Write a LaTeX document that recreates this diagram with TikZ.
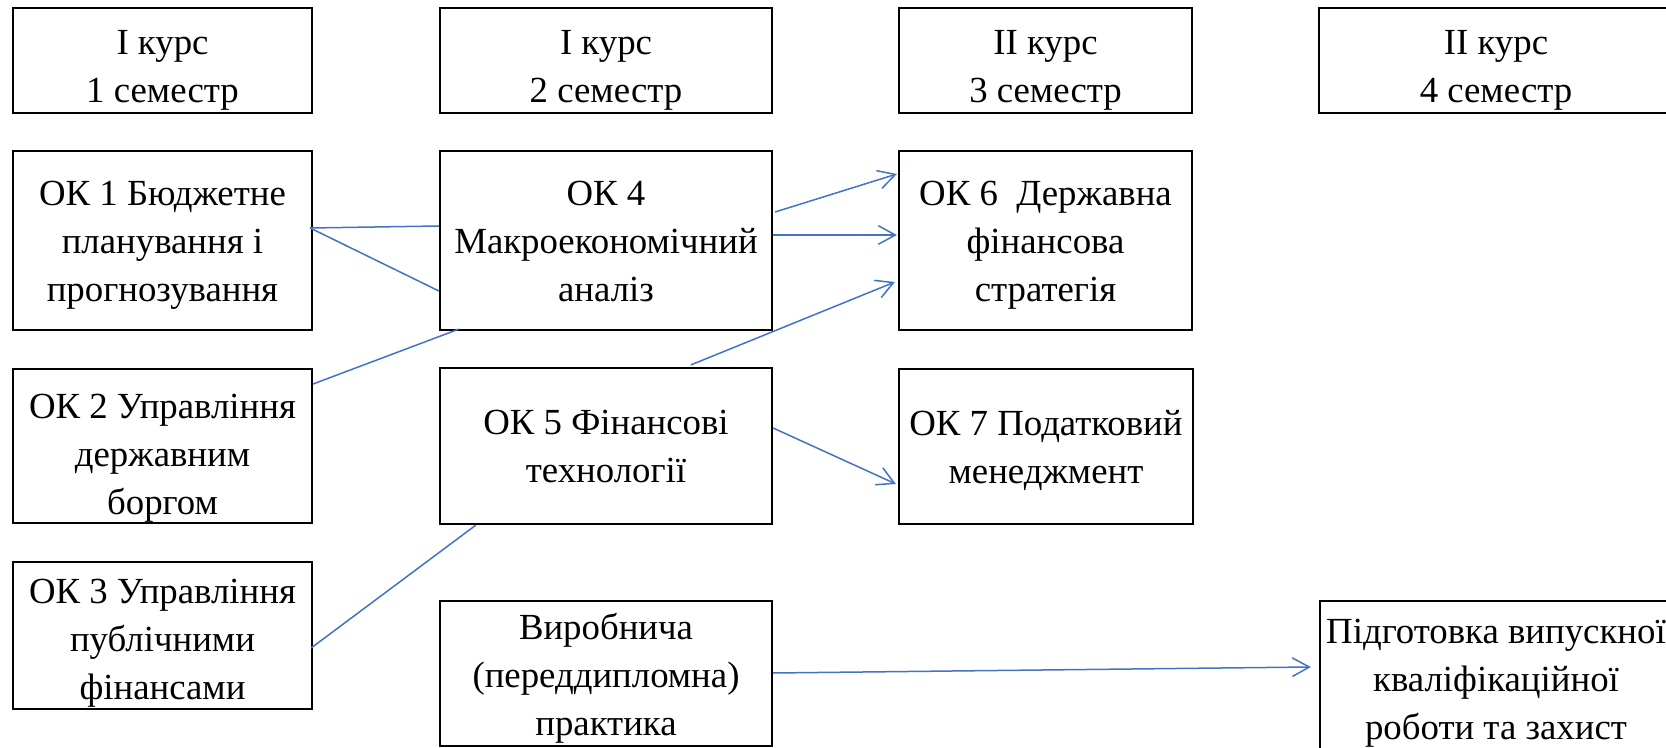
\documentclass[tikz,border=0pt]{standalone}
\usepackage{fontspec}
\setmainfont{Liberation Serif}
\usetikzlibrary{arrows.meta,calc}
\definecolor{lnblue}{RGB}{68,114,196}
\newcommand\boxtext[3]{\node[txt] at ($(#1.north)+(0,#2-31)$) {\strut #3};}
\begin{document}
\begin{tikzpicture}[x=0.5pt,y=-0.5pt,
  box/.style={draw=black,line width=1.1pt,rectangle,inner sep=0pt},
  txt/.style={font=\fontsize{18.4pt}{24pt}\selectfont,align=center,inner sep=0pt,anchor=north},
  link/.style={draw=lnblue,line width=0.75pt},
  arr/.style={link,-{Straight Barb[length=8.5pt,width=9.3pt]}}]
\clip (0,0) rectangle (1666,748);
\fill[white] (0,0) rectangle (1666,748);
% headers
\node[box,minimum width=149.5pt,minimum height=52.5pt] (h1) at (162.5,60.5) {};
\node[box,minimum width=166pt,minimum height=52.5pt] (h2) at (606,60.5) {};
\node[box,minimum width=146.5pt,minimum height=52.5pt] (h3) at (1045.5,60.5) {};
\node[box,minimum width=177pt,minimum height=52.5pt] (h4) at (1496,60.5) {};
% courses
\node[box,minimum width=149.5pt,minimum height=89.5pt] (ok1) at (162.5,240.5) {};
\node[box,minimum width=166pt,minimum height=89.5pt] (ok4) at (606,240.5) {};
\node[box,minimum width=146.5pt,minimum height=89.5pt] (ok6) at (1045.5,240.5) {};
\node[box,minimum width=149.5pt,minimum height=77pt] (ok2) at (162.5,446) {};
\node[box,minimum width=166pt,minimum height=78pt] (ok5) at (606,446) {};
\node[box,minimum width=147pt,minimum height=77.5pt] (ok7) at (1046,446.5) {};
\node[box,minimum width=149.5pt,minimum height=73.5pt] (ok3) at (162.5,635.5) {};
\node[box,minimum width=166pt,minimum height=72.5pt] (prac) at (606,673.5) {};
\node[box,minimum width=176pt,minimum height=79.5pt] (last) at (1496,680.5) {};
% texts
\boxtext{h1}{45}{I курс\\1 семестр}
\boxtext{h2}{45}{I курс\\2 семестр}
\boxtext{h3}{45}{II курс\\3 семестр}
\boxtext{h4}{45}{II курс\\4 семестр}
\boxtext{ok1}{53}{ОК 1 Бюджетне\\планування і\\прогнозування}
\boxtext{ok4}{53}{ОК 4\\Макроекономічний\\аналіз}
\boxtext{ok6}{53}{ОК 6\ \ Державна\\фінансова\\стратегія}
\boxtext{ok2}{48}{ОК 2 Управління\\державним\\боргом}
\boxtext{ok5}{65}{ОК 5 Фінансові\\технології}
\boxtext{ok7}{65}{ОК 7 Податковий\\менеджмент}
\boxtext{ok3}{40}{ОК 3 Управління\\публічними\\фінансами}
\boxtext{prac}{37}{Виробнича\\(переддипломна)\\практика}
\boxtext{last}{41}{Підготовка випускної\\кваліфікаційної\\роботи та захист}
% connectors
\draw[link] ($(ok1.east)+(-3,-12.5)$) -- ($(ok4.west)+(0,-14.5)$);
\draw[link] ($(ok1.east)+(-3,-12.5)$) -- ($(ok4.west)+(0,50.5)$);
\draw[link] ($(ok2.east)+(0,-62)$) -- ($(ok4.south west)+(20,-2)$);
\draw[link] ($(ok3.east)+(-2,12.5)$) -- ($(ok5.south west)+(37,0)$);
\draw[arr] ($(ok4.east)+(2,-28.5)$) -- ($(ok6.west)+(-1,-66.5)$);
\draw[arr] ($(ok4.east)+(0,-5.5)$) -- ($(ok6.west)+(-1,-5.5)$);
\draw[arr] ($(ok5.north west)+(252,-2)$) -- ($(ok6.west)+(-3,41.5)$);
\draw[arr] ($(ok5.east)+(0,-18)$) -- ($(ok7.west)+(-2,37.5)$);
\draw[arr] ($(prac.east)+(0,-0.5)$) -- ($(last.west)+(-8,-13.5)$);
\end{tikzpicture}
\end{document}
